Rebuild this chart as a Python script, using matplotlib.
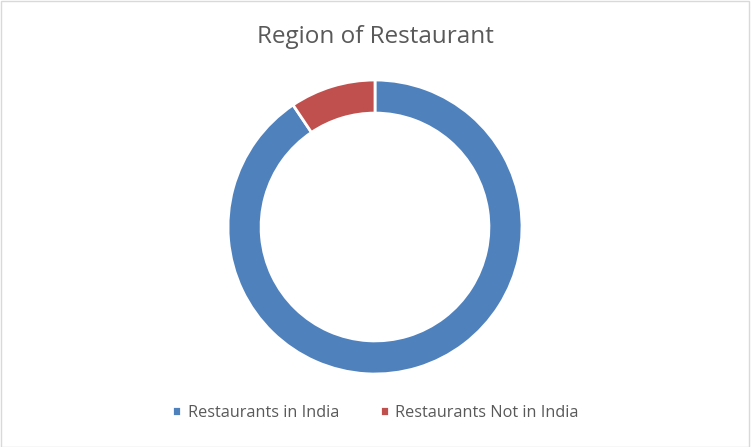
import matplotlib.pyplot as plt
from matplotlib.patches import Rectangle

# Region counts
labels = ["Restaurants in India", "Restaurants Not in India"]
counts = [8652, 899]
colors = ["#4f81bd", "#c0504d"]

plt.rcParams['font.family'] = ['Open Sans', 'DejaVu Sans']

fig = plt.figure(figsize=(7.51, 4.47), dpi=100)
fig.patches.append(Rectangle((0.001, 0.001), 0.997, 0.996, transform=fig.transFigure,
                             fill=False, edgecolor="#d9d9d9", linewidth=1))

ax = fig.add_axes([228 / 751, 73 / 447, 294 / 751, 294 / 447])
wedges, _ = ax.pie(counts, colors=colors, startangle=90, counterclock=False, radius=1,
                   wedgeprops=dict(width=0.225, edgecolor="white", linewidth=2))
ax.set_xlim(-1, 1)
ax.set_ylim(-1, 1)
ax.set_aspect("equal")

fig.text(0.5, 1 - 37 / 447, "Region of Restaurant", ha="center", va="center",
         fontsize=17.5, color="#595959")

fig.legend(wedges, labels, loc="center", bbox_to_anchor=(0.5, 1 - 413 / 447),
           ncol=2, frameon=False, fontsize=11.7, labelcolor="#595959",
           handlelength=0.55, handleheight=0.55, handletextpad=0.4, columnspacing=2.5)

fig.savefig("out.png", dpi=100)
